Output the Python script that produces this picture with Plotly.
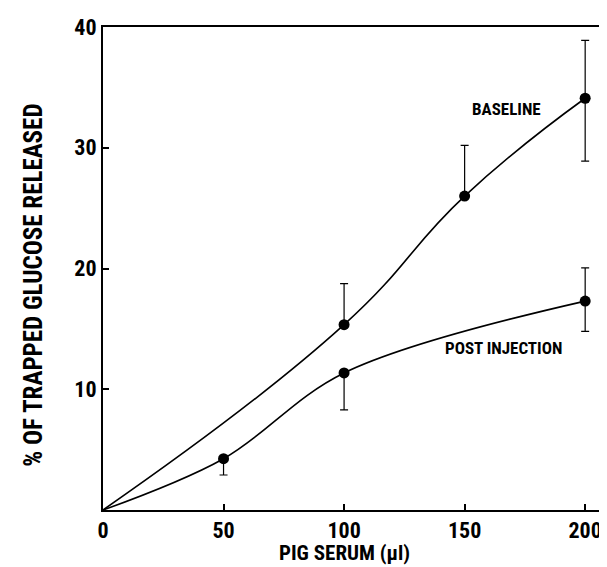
import plotly.graph_objects as go

# ---- data ----
baseline_x = [0, 100, 150, 200]
baseline_y = [0, 15.35, 26.0, 34.1]
baseline_err_up = [0, 3.4, 4.2, 4.8]
baseline_err_down = [0, 0, 0, 5.2]

post_x = [0, 50, 100, 200]
post_y = [0, 4.25, 11.35, 17.3]
post_err_up = [0, 0, 0, 2.75]
post_err_down = [0, 1.35, 3.05, 2.5]

x_ticks = [0, 50, 100, 150, 200]
y_ticks = [10, 20, 30, 40]

FONT = "Roboto Condensed, Open Sans Condensed, DejaVu Sans Condensed, sans-serif"

fig = go.Figure()

def add_series(xs, ys, up, down, smooth):
    fig.add_trace(go.Scatter(
        x=xs, y=ys, mode="lines",
        line=dict(color="black", width=1.6, shape="spline", smoothing=smooth),
        hoverinfo="skip", showlegend=False))
    fig.add_trace(go.Scatter(
        x=xs[1:], y=ys[1:], mode="markers",
        marker=dict(color="black", size=11),
        error_y=dict(type="data", symmetric=False, array=up[1:], arrayminus=down[1:],
                     color="black", thickness=1.2, width=4),
        showlegend=False))

add_series(baseline_x, baseline_y, baseline_err_up, baseline_err_down, 1.3)
add_series(post_x, post_y, post_err_up, post_err_down, 1.0)

fig.update_layout(
    width=607, height=567,
    margin=dict(l=95, r=3, t=19, b=65),
    paper_bgcolor="white", plot_bgcolor="white",
    font=dict(family=FONT, color="black", size=22, weight="bold"),
    xaxis=dict(range=[0, 210.3], tickvals=x_ticks, ticks="inside", ticklen=6,
               tickwidth=1.5, tickcolor="black",
               showline=True, linecolor="black", linewidth=2, mirror=True,
               showgrid=False, zeroline=False,
               tickfont=dict(family=FONT, size=22, weight="bold")),
    yaxis=dict(range=[0, 40], tickvals=y_ticks, ticks="inside", ticklen=6,
               tickwidth=1.5, tickcolor="black",
               showline=True, linecolor="black", linewidth=2, mirror=True,
               showgrid=False, zeroline=False,
               tickfont=dict(family=FONT, size=22, weight="bold")),
    annotations=[
        dict(text="BASELINE", x=167.4, y=33.2, xref="x", yref="y", showarrow=False,
             font=dict(family=FONT, size=17, weight="bold")),
        dict(text="POST INJECTION", x=166.3, y=13.4, xref="x", yref="y", showarrow=False,
             font=dict(family=FONT, size=17, weight="bold")),
        dict(text="PIG SERUM (µl)", x=100, y=-0.117, xref="x", yref="paper", showarrow=False,
             yanchor="bottom", font=dict(family=FONT, size=21, weight="bold")),
        dict(text="% OF TRAPPED GLUCOSE RELEASED", x=-0.1375, y=18.6, xref="paper", yref="y",
             showarrow=False, textangle=-90, xanchor="center", yanchor="middle",
             font=dict(family=FONT, size=25, weight="bold")),
    ],
)

fig.write_html("out.html")
